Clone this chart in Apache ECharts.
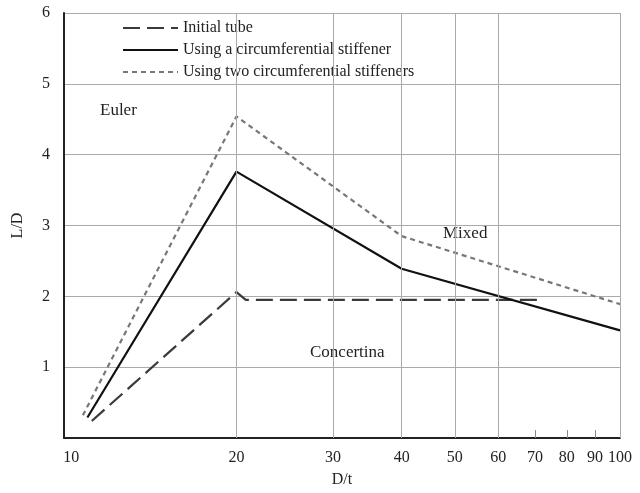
<!DOCTYPE html>
<html>
<head>
<meta charset="utf-8">
<title>L/D vs D/t</title>
<script src="https://cdn.jsdelivr.net/npm/echarts@6/dist/echarts.min.js"></script>
<style>
  html, body { margin: 0; padding: 0; background: #fff; }
  #chart { width: 640px; height: 493px; }
</style>
</head>
<body>
<div id="chart"></div>
<script>
// Collapse-mode boundaries: L/D against D/t (log scale)
const seriesNames = [
  'Initial tube',
  'Using a circumferential stiffener',
  'Using two circumferential stiffeners'
];
const initialTube = [[10.9, 0.24], [20, 2.06], [20.8, 1.95], [72, 1.95]];
const oneStiffener = [[10.7, 0.29], [20, 3.76], [40, 2.39], [100, 1.52]];
const twoStiffeners = [[10.5, 0.32], [20, 4.54], [40, 2.85], [100, 1.89]];

const xLabelValues = [10, 20, 30, 40, 50, 60, 70, 80, 90, 100];
const xGridValues = [20, 30, 40, 50, 60, 100];
const xMinorTicks = [70, 80, 90];

const regionLabels = [
  { text: 'Euler', x: 100, y: 112 },
  { text: 'Mixed', x: 443, y: 235 },
  { text: 'Concertina', x: 310, y: 354 }
];

const FONT = '"Liberation Serif", "Times New Roman", serif';
const chart = echarts.init(document.getElementById('chart'), null, { renderer: 'canvas' });

chart.setOption({
  backgroundColor: '#ffffff',
  animation: false,
  textStyle: { fontFamily: FONT },
  grid: { left: 64, right: 20, top: 13, bottom: 48 },
  legend: {
    left: 117,
    top: 15,
    orient: 'vertical',
    itemWidth: 55,
    itemHeight: 14,
    itemGap: 6,
    // line sample only, no marker on it
    itemStyle: { opacity: 0, borderWidth: 0 },
    textStyle: { fontFamily: FONT, fontSize: 16, color: '#222', lineHeight: 16 },
    data: seriesNames
  },
  xAxis: {
    type: 'log',
    logBase: 10,
    min: 9.7,
    max: 100,
    name: 'D/t',
    nameLocation: 'middle',
    nameGap: 34,
    nameTextStyle: { fontFamily: FONT, fontSize: 16, color: '#222' },
    axisLine: { show: true, lineStyle: { color: '#222', width: 2 } },
    axisTick: { show: true, inside: true, length: 8, customValues: xMinorTicks, lineStyle: { color: '#888', width: 1 } },
    axisLabel: { customValues: xLabelValues, fontFamily: FONT, fontSize: 16, color: '#222', margin: 12 },
    splitLine: { show: false },
    minorTick: { show: false },
    minorSplitLine: { show: false }
  },
  yAxis: {
    type: 'value',
    min: 0,
    max: 6,
    interval: 1,
    name: 'L/D',
    nameLocation: 'middle',
    nameGap: 38,
    nameTextStyle: { fontFamily: FONT, fontSize: 16, color: '#222' },
    axisLine: { show: true, lineStyle: { color: '#222', width: 2 } },
    axisTick: { show: false },
    axisLabel: {
      fontFamily: FONT, fontSize: 16, color: '#222', margin: 14,
      formatter: v => (v === 0 ? '' : String(v))
    },
    splitLine: { show: true, lineStyle: { color: '#aaa', width: 1 } }
  },
  series: [
    {
      name: seriesNames[0],
      type: 'line',
      data: initialTube,
      symbol: 'none',
      z: 3,
      lineStyle: { color: '#3a3a3a', width: 2.2, type: [17, 7] },
      itemStyle: { color: '#3a3a3a' },
      markLine: {
        silent: true,
        symbol: 'none',
        label: { show: false },
        lineStyle: { color: '#aaa', width: 1, type: 'solid' },
        data: xGridValues.map(v => ({ xAxis: v }))
      }
    },
    {
      name: seriesNames[1],
      type: 'line',
      data: oneStiffener,
      symbol: 'none',
      z: 4,
      lineStyle: { color: '#111', width: 2.2, type: 'solid' },
      itemStyle: { color: '#111' }
    },
    {
      name: seriesNames[2],
      type: 'line',
      data: twoStiffeners,
      symbol: 'none',
      z: 3,
      lineStyle: { color: '#777', width: 2.2, type: [5, 4] },
      itemStyle: { color: '#777' }
    }
  ],
  graphic: regionLabels.map(r => ({
    type: 'text',
    left: r.x,
    top: r.y - 10,
    style: { text: r.text, font: '17px ' + FONT, fill: '#222' }
  }))
});
</script>
</body>
</html>
